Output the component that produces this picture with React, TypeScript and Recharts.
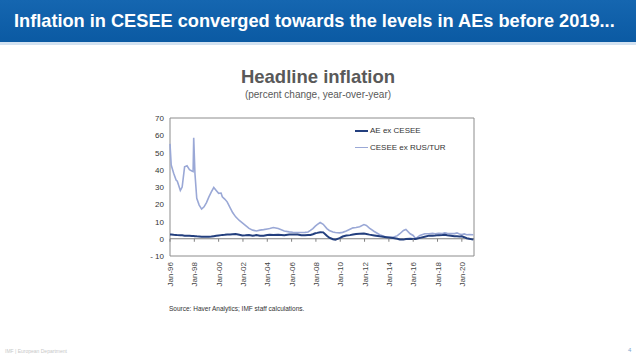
import React from 'react';
import { LineChart, Line, XAxis, YAxis, ReferenceLine, ReferenceArea } from 'recharts';

const FONT = '"Liberation Sans", Arial, sans-serif';

// time in decimal years
const months = [
  1996.0, 1996.1, 1996.3, 1996.5, 1996.6, 1996.85, 1997.0, 1997.2, 1997.4, 1997.6,
  1997.8, 1997.9, 1997.95, 1998.05, 1998.2, 1998.4, 1998.6, 1998.8, 1999.0, 1999.2,
  1999.4, 1999.6, 1999.8, 2000.0, 2000.2, 2000.3, 2000.5, 2000.7, 2000.95, 2001.15,
  2001.4, 2001.7, 2001.95, 2002.2, 2002.5, 2002.8, 2003.1, 2003.4, 2003.7, 2004.0,
  2004.2, 2004.5, 2004.9, 2005.4, 2005.8, 2006.1, 2006.5, 2006.8, 2007.1, 2007.35,
  2007.55, 2007.75, 2007.95, 2008.1, 2008.35, 2008.6, 2008.9, 2009.1, 2009.4, 2009.6,
  2009.95, 2010.2, 2010.5, 2010.8, 2011.05, 2011.3, 2011.6, 2011.95, 2012.15, 2012.4,
  2012.8, 2013.25, 2013.8, 2014.35, 2014.7, 2014.9, 2015.2, 2015.4, 2015.75, 2016.0,
  2016.2, 2016.55, 2016.95, 2017.3, 2017.6, 2017.8, 2018.1, 2018.4, 2018.6, 2018.8,
  2019.1, 2019.4, 2019.6, 2019.8, 2020.0, 2020.2, 2020.4, 2020.6, 2020.95,
];

const aeExCesee = [
  2.5, 2.5, 2.3, 2.2, 2.1, 2.0, 2.0, 1.8, 1.8, 1.7,
  1.6, 1.6, 1.6, 1.5, 1.4, 1.3, 1.2, 1.1, 1.1, 1.2,
  1.3, 1.5, 1.7, 1.9, 2.1, 2.2, 2.3, 2.5, 2.4, 2.6,
  2.8, 2.3, 1.9, 2.0, 2.2, 1.8, 2.1, 1.8, 1.8, 2.2,
  2.3, 2.2, 2.3, 2.1, 2.4, 2.4, 2.5, 2.0, 2.1, 2.2,
  2.2, 2.6, 3.2, 3.4, 3.8, 3.7, 1.7, 0.6, -0.3, -0.6,
  0.4, 1.3, 1.9, 2.1, 2.4, 2.7, 2.9, 3.0, 2.8, 2.4,
  1.9, 1.4, 0.9, 0.4, 0.0, -0.4, -0.5, -0.2, 0.0, -0.2,
  -0.1, 0.5, 1.2, 1.8, 1.8, 1.9, 2.1, 2.2, 2.3, 2.0,
  1.8, 1.5, 1.4, 1.3, 1.4, 0.9, 0.3, 0.0, -0.5,
];

const ceseeExRusTur = [
  55, 42.7, 38, 34, 33.4, 28, 30, 41.7, 42.3, 40,
  39.3, 39, 58.6, 38, 23.4, 19.5, 17.2, 18.5, 21, 24.3,
  27.2, 29.7, 28, 26.3, 26.5, 24.3, 23, 21.4, 17.9, 15.2,
  12.7, 10.6, 9.2, 7.8, 6, 5, 4.5, 5, 5.3, 5.7,
  5.9, 6.5, 5.9, 4.5, 4, 3.8, 3.6, 3.6, 3.7, 3.9,
  4.8, 5.9, 7.3, 8.2, 9.4, 8.4, 5.9, 4.8, 3.9, 3.6,
  3.4, 3.7, 4.5, 5.5, 6.3, 6.5, 7, 8.2, 7.7, 6.2,
  4.2, 2.3, 0.9, 0.9, 1.8, 2.9, 4.8, 5.4, 2.9, 1.9,
  0, 1.9, 2.9, 2.9, 3.1, 2.9, 3.1, 3, 3.4, 3.1,
  3, 3, 3.4, 2.8, 2.4, 2.8, 2.3, 2.4, 2.3,
];

const xTicks = [1996, 1998, 2000, 2002, 2004, 2006, 2008, 2010, 2012, 2014, 2016, 2018, 2020];
const yTicks = [-10, 0, 10, 20, 30, 40, 50, 60, 70];

const data = months.map((t, i) => ({ t, ae: aeExCesee[i], cesee: ceseeExRusTur[i] }));

const AE_COLOR = '#233f7e';
const CESEE_COLOR = '#9aa8d6';

// plot box
const PLOT_TOP = 118;
const PLOT_BOTTOM = 256;
const PLOT_LEFT = 170;
const PLOT_RIGHT = 474;
const ZERO_Y = PLOT_TOP + ((PLOT_BOTTOM - PLOT_TOP) * 70) / 80;

const XTick = ({ x, payload }: any) => {
  const yr = String(payload.value).slice(2);
  return (
    <g>
      <line x1={x} x2={x} y1={ZERO_Y} y2={ZERO_Y + 3} stroke="#808080" />
      <text
        transform={`translate(${x + 3},${PLOT_BOTTOM + 6}) rotate(-90)`}
        textAnchor="end"
        fontSize={8}
        fontFamily={FONT}
        fill="#444"
      >
        {`Jan-${yr}`}
      </text>
    </g>
  );
};

const YTick = ({ y, payload }: any) => (
  <text x={PLOT_LEFT - 6} y={y + 3} textAnchor="end" fontSize={8} fontFamily={FONT} fill="#333">
    {payload.value < 0 ? `- ${Math.abs(payload.value)}` : payload.value}
  </text>
);

const legendItems = [
  { label: 'AE ex CESEE', color: AE_COLOR, w: 2 },
  { label: 'CESEE ex RUS/TUR', color: CESEE_COLOR, w: 1.5 },
];

export default function App() {
  return (
    <div style={{ position: 'absolute', left: 0, top: 0, width: 636, height: 357, background: '#fff', overflow: 'hidden', fontFamily: FONT }}>
      {/* slide header */}
      <div style={{ position: 'absolute', left: 0, top: 0, width: 636, height: 42, background: 'linear-gradient(#1566b0, #0b5aa3)' }} />
      <div style={{ position: 'absolute', left: 0, top: 42, width: 636, height: 3, background: '#d3e2f1' }} />
      <div style={{ position: 'absolute', left: 14, top: 11, color: '#fff', fontWeight: 'bold', fontSize: 18.2, whiteSpace: 'nowrap' }}>
        Inflation in CESEE converged towards the levels in AEs before 2019...
      </div>

      <div style={{ position: 'absolute', left: 318, top: 66, transform: 'translateX(-50%)', whiteSpace: 'nowrap', fontSize: 18.5, fontWeight: 'bold', color: '#595959' }}>
        Headline inflation
      </div>
      <div style={{ position: 'absolute', left: 318, top: 89, transform: 'translateX(-50%)', whiteSpace: 'nowrap', fontSize: 10, color: '#595959' }}>
        (percent change, year-over-year)
      </div>

      <div style={{ position: 'absolute', left: 0, top: 0 }}>
        <LineChart
          width={636}
          height={357}
          data={data}
          margin={{ top: PLOT_TOP, right: 636 - PLOT_RIGHT, bottom: 357 - PLOT_BOTTOM - 40, left: PLOT_LEFT - 30 }}
        >
          <XAxis
            dataKey="t"
            type="number"
            domain={[1996, 2021]}
            ticks={xTicks}
            interval={0}
            height={40}
            axisLine={false}
            tickLine={false}
            tick={<XTick />}
          />
          <YAxis
            type="number"
            domain={[-10, 70]}
            ticks={yTicks}
            interval={0}
            width={30}
            axisLine={false}
            tickLine={false}
            tick={<YTick />}
          />
          <ReferenceArea x1={1996} x2={2021} y1={-10} y2={70} fill="none" stroke="#8c8c8c" strokeWidth={1} />
          <ReferenceLine y={0} stroke="#808080" strokeWidth={1} />
          <Line dataKey="cesee" name="CESEE ex RUS/TUR" stroke={CESEE_COLOR} strokeWidth={1.6} dot={false} isAnimationActive={false} />
          <Line dataKey="ae" name="AE ex CESEE" stroke={AE_COLOR} strokeWidth={2} dot={false} isAnimationActive={false} />
        </LineChart>
      </div>

      {/* legend */}
      <div style={{ position: 'absolute', left: 355, top: 122, fontSize: 8, color: '#333' }}>
        {legendItems.map((it) => (
          <div key={it.label} style={{ display: 'flex', alignItems: 'center', height: 17 }}>
            <div style={{ width: 13, height: it.w, background: it.color, marginRight: 2 }} />
            <span>{it.label}</span>
          </div>
        ))}
      </div>

      <div style={{ position: 'absolute', left: 169, top: 305, fontSize: 6.5, color: '#333', whiteSpace: 'nowrap' }}>
        Source: Haver Analytics; IMF staff calculations.
      </div>

      <div style={{ position: 'absolute', left: 5, top: 348, fontSize: 5, color: '#c8c8c8', whiteSpace: 'nowrap' }}>
        IMF | European Department
      </div>
      <div style={{ position: 'absolute', left: 628, top: 347, fontSize: 6, color: '#7fa6cf' }}>4</div>
    </div>
  );
}
